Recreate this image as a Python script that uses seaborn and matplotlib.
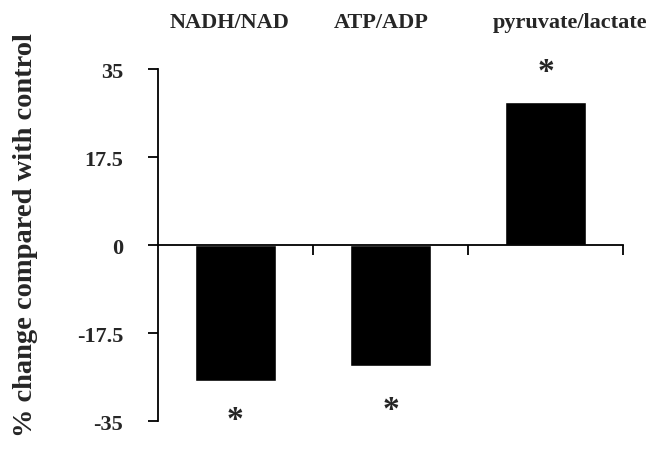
import pandas as pd
import matplotlib
matplotlib.use("Agg")
import matplotlib.pyplot as plt
import seaborn as sns

# values
ratios = ["NADH/NAD", "ATP/ADP", "pyruvate/lactate"]
pct_change = [-27.0, -24.0, 28.4]
star_y = [-34.6, -32.6, 34.6]
label_x = [-0.035, 0.94, 2.16]
yticks = [-35, -17.5, 0, 17.5, 35]
ytick_labels = ["-35", "-17.5", "0", "17.5", "35"]

data = pd.DataFrame({"ratio": ratios, "change": pct_change})

sns.set_style("white")
plt.rcParams["font.family"] = ["Liberation Serif", "DejaVu Serif"]
plt.rcParams["font.weight"] = "bold"

fig = plt.figure(figsize=(6.63, 4.52), dpi=100)
ax = fig.add_axes([0.238, 0.066, 0.702, 0.779])

sns.barplot(data=data, x="ratio", y="change", color="black",
            saturation=1, width=0.52, ax=ax)

ax.set_xlim(-0.5, 2.5)
ax.set_ylim(-35, 35)
ax.set_yticks(yticks)
ax.set_yticklabels(ytick_labels, fontsize=16, fontweight="bold")
ax.set_xticks([0.5, 1.5, 2.5])
ax.set_xticklabels([])
ax.set_xlabel("")
ax.set_ylabel("% change compared with control", fontsize=20.5,
              fontweight="bold", va="center")
ax.yaxis.set_label_coords(-0.285, 0.53)

ax.spines["top"].set_visible(False)
ax.spines["right"].set_visible(False)
ax.spines["bottom"].set_position(("data", 0))
for s in ["left", "bottom"]:
    ax.spines[s].set_color("black")
    ax.spines[s].set_linewidth(1.3)
ax.tick_params(axis="both", direction="out", color="black", width=1.3)
ax.tick_params(axis="y", length=7, pad=18, left=True)
ax.tick_params(axis="x", length=7, bottom=True)

for i, y in enumerate(star_y):
    ax.text(i, y, "*", ha="center", va="center", fontsize=24,
            fontweight="bold")

# category names sit above the plot, not under the bars
for x, name in zip(label_x, ratios):
    ax.text(x, 1.135, name, transform=ax.get_xaxis_transform(),
            ha="center", va="center", fontsize=16, fontweight="bold")

plt.savefig("out.png", dpi=100)
